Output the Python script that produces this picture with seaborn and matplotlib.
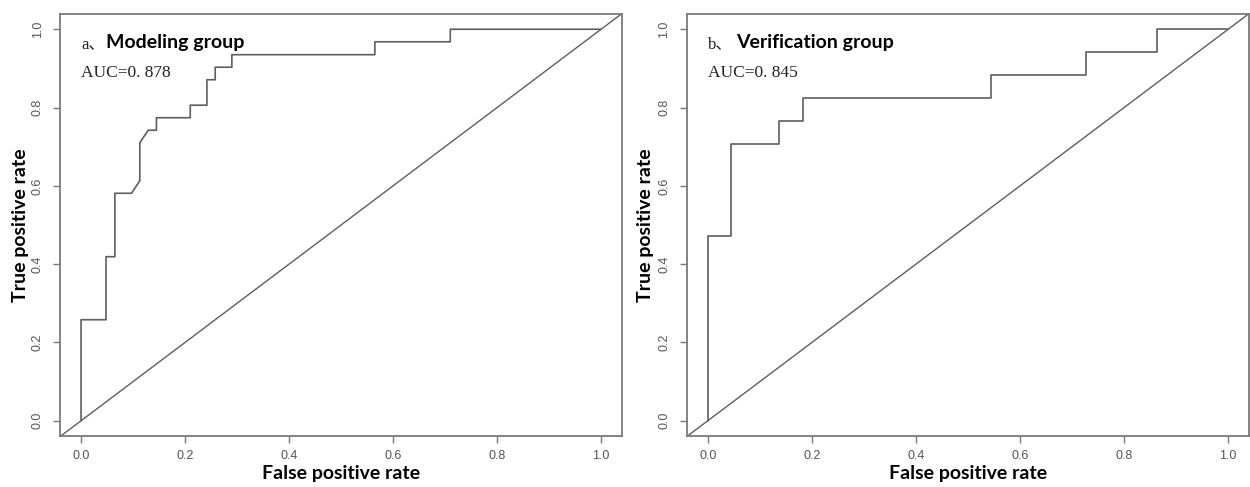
import numpy as np
import pandas as pd
import matplotlib
matplotlib.use("Agg")
import matplotlib.pyplot as plt
import seaborn as sns

# ROC curve points
model_fpr = [0, 0, 0.048, 0.048, 0.065, 0.065, 0.097, 0.113, 0.113, 0.129, 0.145, 0.145,
             0.210, 0.210, 0.242, 0.242, 0.258, 0.258, 0.290, 0.290, 0.565, 0.565,
             0.710, 0.710, 1.0]
model_tpr = [0, 0.258, 0.258, 0.419, 0.419, 0.581, 0.581, 0.613, 0.710, 0.742, 0.742, 0.774,
             0.774, 0.806, 0.806, 0.871, 0.871, 0.903, 0.903, 0.935, 0.935, 0.968,
             0.968, 1.0, 1.0]

verif_fpr = [0, 0, 0.045, 0.045, 0.136, 0.136, 0.182, 0.182, 0.545, 0.545,
             0.727, 0.727, 0.864, 0.864, 1.0]
verif_tpr = [0, 0.471, 0.471, 0.706, 0.706, 0.765, 0.765, 0.824, 0.824, 0.882,
             0.882, 0.941, 0.941, 1.0, 1.0]

panel_prefix = ["a、", "b、"]
panel_names = ["Modeling group", "Verification group"]
auc_labels = ["AUC=0. 878", "AUC=0. 845"]
ticks = [0.0, 0.2, 0.4, 0.6, 0.8, 1.0]

sns.set_style("white")
plt.rcParams['font.family'] = ['Liberation Sans', 'DejaVu Sans']

LINE = "#5e5e5e"
FRAME = "#7a7a7a"

fig = plt.figure(figsize=(12.5, 4.87), dpi=100)
axes = [fig.add_axes([0.0482, 0.1039, 0.4493, 0.8682]),
        fig.add_axes([0.5496, 0.1039, 0.4496, 0.8682])]

curves = [(model_fpr, model_tpr), (verif_fpr, verif_tpr)]
name_dx = [0.048, 0.054]
ylabel_x = [-0.056, -0.059]

for i, ax in enumerate(axes):
    fpr, tpr = curves[i]
    df = pd.DataFrame({"fpr": fpr, "tpr": tpr})
    sns.lineplot(data=df, x="fpr", y="tpr", sort=False, estimator=None,
                 color=LINE, lw=1.2, ax=ax)
    # reference diagonal spans the whole plot region (like R's abline)
    ax.axline((0, 0), (1, 1), color=LINE, lw=1.0)

    ax.set_xlim(-0.04, 1.04)
    ax.set_ylim(-0.04, 1.04)
    ax.set_xticks(ticks)
    ax.set_yticks(ticks)
    ax.set_xticklabels([f"{t:.1f}" for t in ticks], fontsize=9, color="#555555")
    ax.set_yticklabels([f"{t:.1f}" for t in ticks], fontsize=9, color="#555555",
                       rotation=90, va="center")
    ax.tick_params(axis="both", direction="out", length=5, width=1.0,
                   color=FRAME, bottom=True, left=True)
    ax.tick_params(axis="x", pad=5)
    ax.tick_params(axis="y", pad=7)
    for sp in ax.spines.values():
        sp.set_visible(True)
        sp.set_color(FRAME)
        sp.set_linewidth(1.3)

    ax.set_xlabel("False positive rate", family="Lato", fontweight="bold",
                  fontsize=14, color="black")
    ax.set_ylabel("True positive rate", family="Lato", fontweight="bold",
                  fontsize=14, color="black")
    ax.xaxis.set_label_coords(0.5, -0.068)
    ax.yaxis.set_label_coords(ylabel_x[i], 0.5)

    ax.text(0.0, 0.952, panel_prefix[i], family=["Liberation Serif", "Noto Sans CJK SC"],
            fontsize=12, va="baseline", ha="left", color="#222222")
    ax.text(name_dx[i], 0.952, panel_names[i], family="Lato", fontweight="bold",
            fontsize=14, va="baseline", ha="left", color="black")
    ax.text(0.0, 0.879, auc_labels[i], family="Liberation Serif", fontsize=12.5,
            va="baseline", ha="left", color="#222222")

fig.savefig("out.png", dpi=100)
